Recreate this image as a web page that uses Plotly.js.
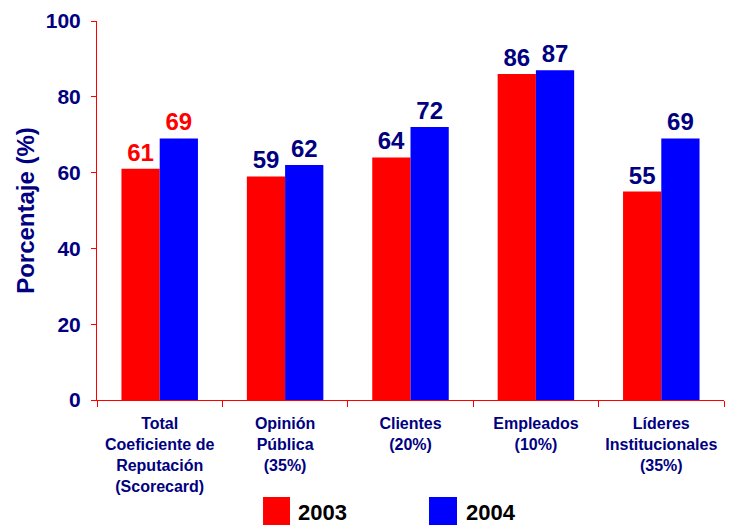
<!DOCTYPE html>
<html>
<head>
<meta charset="utf-8">
<script src="https://cdn.plot.ly/plotly-3.0.1.min.js"></script>
<style>html,body{margin:0;padding:0;background:#fff;}#chart{width:744px;height:525px;}</style>
</head>
<body>
<div id="chart"></div>
<script>
var categories = [
  "Total<br>Coeficiente de<br>Reputación<br>(Scorecard)",
  "Opinión<br>Pública<br>(35%)",
  "Clientes<br>(20%)",
  "Empleados<br>(10%)",
  "Líderes<br>Institucionales<br>(35%)"
];
var values2003 = [61, 59, 64, 86, 55];
var values2004 = [69, 62, 72, 87, 69];
var seriesNames = ["2003", "2004"];
var yTicks = [0, 20, 40, 60, 80, 100];

var NAVY = "#000080";
var RED = "#FF0000";
var BLUE = "#0000FF";
var FONT = "Liberation Sans, Arial, sans-serif";

function labelColors(n) {
  var c = [];
  for (var i = 0; i < n; i++) c.push(i === 0 ? RED : NAVY);
  return c;
}

var traces = [
  {
    type: "bar", name: seriesNames[0], x: categories, y: values2003,
    marker: {color: RED}, text: values2003.map(String), textposition: "outside",
    textfont: {family: FONT, size: 24, color: labelColors(values2003.length), weight: "bold"},
    cliponaxis: false, showlegend: false, hoverinfo: "skip"
  },
  {
    type: "bar", name: seriesNames[1], x: categories, y: values2004,
    marker: {color: BLUE}, text: values2004.map(String), textposition: "outside",
    textfont: {family: FONT, size: 24, color: labelColors(values2004.length), weight: "bold"},
    cliponaxis: false, showlegend: false, hoverinfo: "skip"
  }
];

var layout = {
  width: 744, height: 525,
  margin: {l: 97, r: 20, t: 21, b: 125},
  paper_bgcolor: "#fff", plot_bgcolor: "#fff",
  barmode: "group", bargap: 0.39, bargroupgap: 0,
  font: {family: FONT, color: NAVY},
  xaxis: {
    type: "category",
    showline: true, linecolor: RED, linewidth: 1,
    ticks: "outside", tickson: "boundaries", ticklen: 6, tickcolor: RED,
    tickfont: {family: FONT, size: 16, color: NAVY, weight: "bold"},
    ticklabelstandoff: 9,
    showgrid: false, zeroline: false
  },
  yaxis: {
    range: [0, 100], tickvals: yTicks, ticktext: yTicks.map(String),
    showline: true, linecolor: RED, linewidth: 1,
    ticks: "outside", ticklen: 5, tickcolor: RED,
    tickfont: {family: FONT, size: 21, color: NAVY, weight: "bold"},
    ticklabelstandoff: 6,
    showgrid: false, zeroline: false,
    title: {text: "Porcentaje (%)", font: {family: FONT, size: 24, color: NAVY, weight: "bold"}, standoff: 4}
  },
  shapes: [
    {type: "rect", xref: "paper", yref: "paper", x0: 0.2648, x1: 0.3078, y0: -0.33, y1: -0.256, fillcolor: RED, line: {width: 0}},
    {type: "rect", xref: "paper", yref: "paper", x0: 0.5295, x1: 0.5742, y0: -0.33, y1: -0.256, fillcolor: BLUE, line: {width: 0}}
  ],
  annotations: [
    {xref: "paper", yref: "paper", x: 0.318, y: -0.298, xanchor: "left", yanchor: "middle", showarrow: false,
     text: seriesNames[0], font: {family: FONT, size: 22, color: "#000", weight: "bold"}},
    {xref: "paper", yref: "paper", x: 0.585, y: -0.298, xanchor: "left", yanchor: "middle", showarrow: false,
     text: seriesNames[1], font: {family: FONT, size: 22, color: "#000", weight: "bold"}}
  ]
};

Plotly.newPlot("chart", traces, layout, {displayModeBar: false, staticPlot: true});
</script>
</body>
</html>
